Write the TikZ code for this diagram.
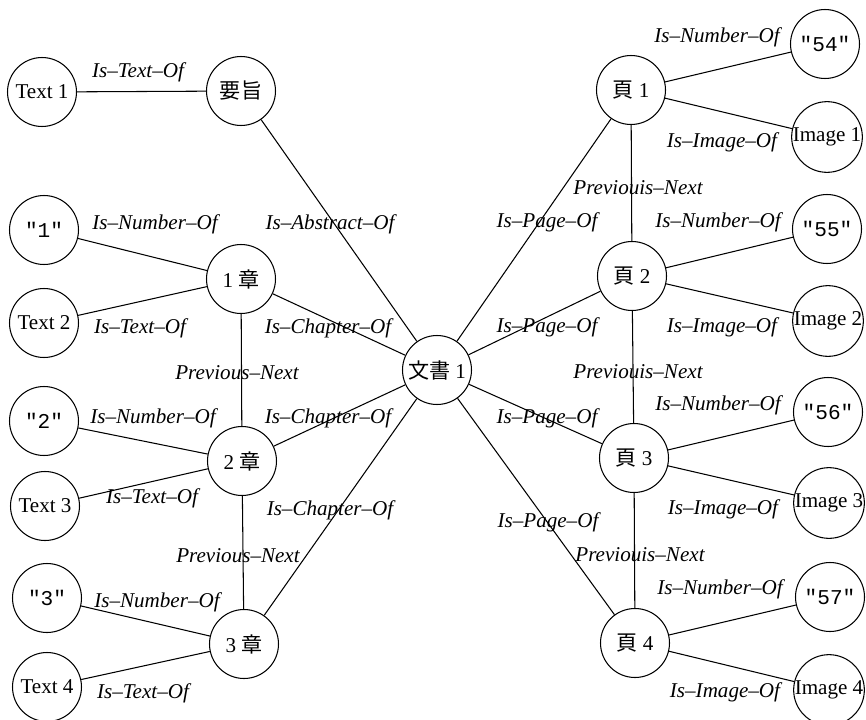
\documentclass[tikz,border=0pt]{standalone}
\usepackage{fontspec}
\setmainfont{Liberation Serif}
\setmonofont{Liberation Mono}
\newfontfamily\jpfont{Noto Sans CJK JP}
\usetikzlibrary{positioning}
\newcommand{\kj}[1]{{\jpfont #1}}
\newcommand{\qnum}[1]{\texttt{"#1"}}

\begin{document}
\begin{tikzpicture}[x=0.02cm, y=-0.02cm, line width=0.6pt,
    every node/.style={font=\fontsize{12}{14}\selectfont},
    obj/.style={circle, draw, minimum size=1.38cm, inner sep=0pt},
    rel/.style={font=\fontsize{12}{14}\selectfont\itshape, inner sep=1pt}]
  \useasboundingbox (0,0) rectangle (866,720);

  % Document and abstract
  \node[obj] (doc) at (437,370) {\kj{文書} 1};
  \node[obj] (yoshi) at (241,91) {\kj{要旨}};
  \node[obj] (txtA) at (42,92) {Text 1};

  % Chapters
  \node[obj] (ch1) at (241,279) {1 \kj{章}};
  \node[obj] (ch2) at (242,461) {2 \kj{章}};
  \node[obj] (ch3) at (244,644) {3 \kj{章}};
  \node[obj] (num1) at (44,230) {\qnum{1}};
  \node[obj] (txtB) at (44,323) {Text 2};
  \node[obj] (num2) at (44,421) {\qnum{2}};
  \node[obj] (txtC) at (45,506) {Text 3};
  \node[obj] (num3) at (47,598) {\qnum{3}};
  \node[obj] (txtD) at (47,687) {Text 4};

  % Pages
  \node[obj] (pg1) at (631,90) {\kj{頁} 1};
  \node[obj] (pg2) at (632,276) {\kj{頁} 2};
  \node[obj] (pg3) at (634,458) {\kj{頁} 3};
  \node[obj] (pg4) at (635,643) {\kj{頁} 4};
  \node[obj] (n54) at (825,44) {\qnum{54}};
  \node[obj] (img1) at (827,137) {Image 1};
  \node[obj] (n55) at (827,229) {\qnum{55}};
  \node[obj] (img2) at (828,321) {Image 2};
  \node[obj] (n56) at (828,412) {\qnum{56}};
  \node[obj] (img3) at (829,503) {Image 3};
  \node[obj] (n57) at (830,597) {\qnum{57}};
  \node[obj] (img4) at (829,690) {Image 4};

  % Links
  \draw (txtA) -- (yoshi);
  \draw (yoshi) -- (doc);
  \draw (ch1) -- (doc);
  \draw (ch2) -- (doc);
  \draw (ch3) -- (doc);
  \draw (ch1) -- (ch2);
  \draw (ch2) -- (ch3);
  \draw (num1) -- (ch1);
  \draw (txtB) -- (ch1);
  \draw (num2) -- (ch2);
  \draw (txtC) -- (ch2);
  \draw (num3) -- (ch3);
  \draw (txtD) -- (ch3);
  \draw (doc) -- (pg1);
  \draw (doc) -- (pg2);
  \draw (doc) -- (pg3);
  \draw (doc) -- (pg4);
  \draw (pg1) -- (pg2);
  \draw (pg2) -- (pg3);
  \draw (pg3) -- (pg4);
  \draw (pg1) -- (n54);
  \draw (pg1) -- (img1);
  \draw (pg2) -- (n55);
  \draw (pg2) -- (img2);
  \draw (pg3) -- (n56);
  \draw (pg3) -- (img3);
  \draw (pg4) -- (n57);
  \draw (pg4) -- (img4);

  % Relation names, left half
  \node[rel] (rTxtA) at (138,72) {Is--Text--Of};
  \node[rel] (rAbs) at (330,224) {Is--Abstract--Of};
  \node[rel] (rNum1) at (155,224) {Is--Number--Of};
  \node[rel] (rTxtB) at (140,328) {Is--Text--Of};
  \node[rel] (rCh1) at (328,328) {Is--Chapter--Of};
  \node[rel] (rPrvA) at (237,373) {Previous--Next};
  \node[rel] (rNum2) at (153,418) {Is--Number--Of};
  \node[rel] (rCh2) at (328,418) {Is--Chapter--Of};
  \node[rel] (rTxtC) at (152,498) {Is--Text--Of};
  \node[rel] (rCh3) at (330,510) {Is--Chapter--Of};
  \node[rel] (rPrvB) at (238,556) {Previous--Next};
  \node[rel] (rNum3) at (157,602) {Is--Number--Of};
  \node[rel] (rTxtD) at (143,693) {Is--Text--Of};

  % Relation names, right half
  \node[rel] (rN54) at (717,37) {Is--Number--Of};
  \node[rel] (rImg1) at (722,142) {Is--Image--Of};
  \node[rel] (rPrvC) at (638,188) {Previouis--Next};
  \node[rel] (rPg1) at (547,222) {Is--Page--Of};
  \node[rel] (rN55) at (718,222) {Is--Number--Of};
  \node[rel] (rPg2) at (547,327) {Is--Page--Of};
  \node[rel] (rImg2) at (722,327) {Is--Image--Of};
  \node[rel] (rPrvD) at (638,372) {Previouis--Next};
  \node[rel] (rN56) at (718,405) {Is--Number--Of};
  \node[rel] (rPg3) at (547,418) {Is--Page--Of};
  \node[rel] (rImg3) at (723,509) {Is--Image--Of};
  \node[rel] (rPg4) at (548,522) {Is--Page--Of};
  \node[rel] (rPrvE) at (640,555) {Previouis--Next};
  \node[rel] (rN57) at (720,589) {Is--Number--Of};
  \node[rel] (rImg4) at (725,692) {Is--Image--Of};
\end{tikzpicture}
\end{document}
